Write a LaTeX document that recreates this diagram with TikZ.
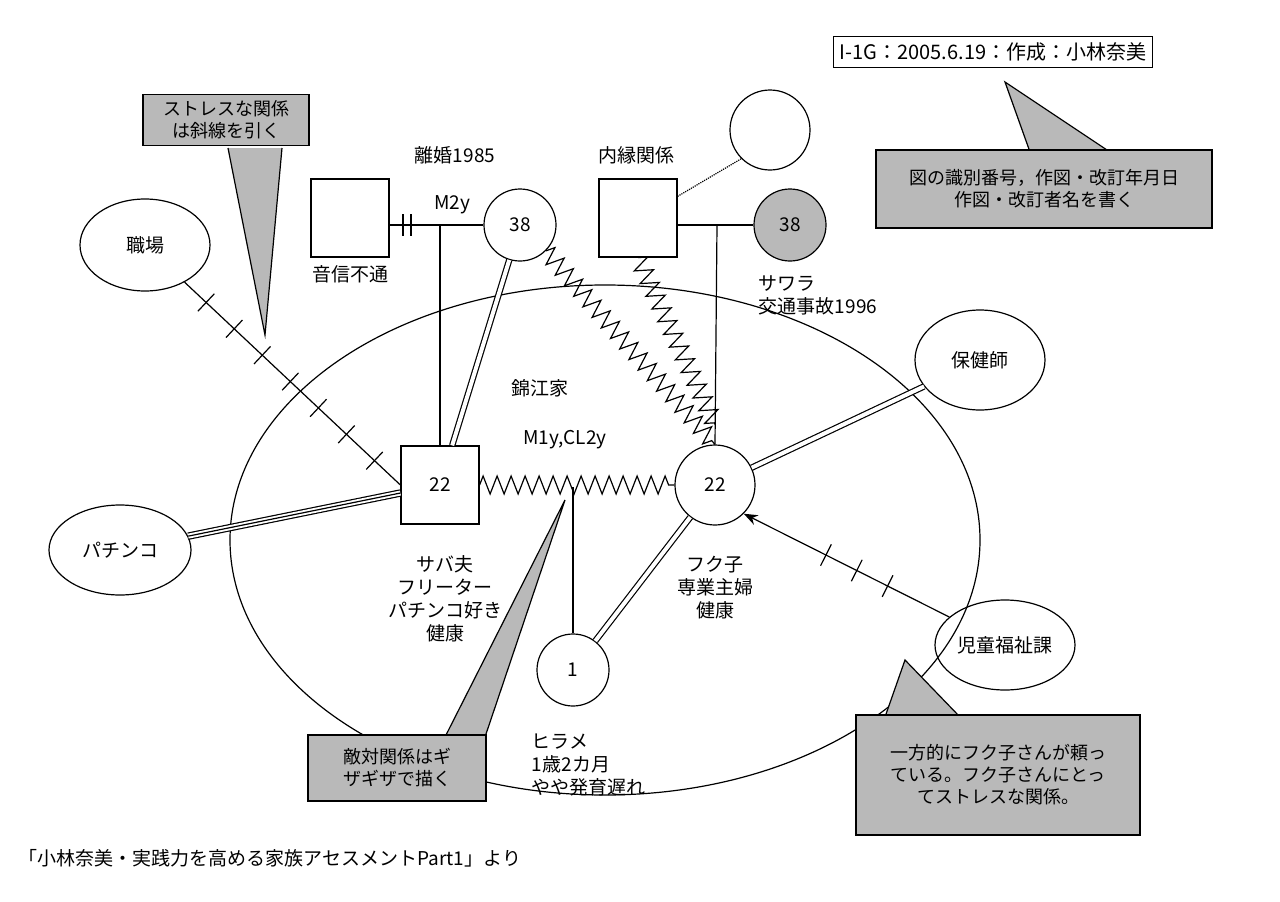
\documentclass[tikz,border=0pt]{standalone}
\usepackage{fontspec}
\setmainfont{Noto Sans CJK JP}
\usetikzlibrary{positioning,calc,shapes.geometric,decorations.pathmorphing,decorations.markings,arrows.meta}
\begin{document}
\begin{tikzpicture}[x=1pt,y=-1pt,font=\fontsize{19}{23}\selectfont,line width=1.2pt,
	m/.style={draw,minimum size=78pt,inner sep=0pt},
	f/.style={draw,circle,minimum size=72pt,inner sep=0pt},
	env/.style={draw,ellipse,inner sep=0pt},
	zz/.style={decorate,decoration={zigzag,segment length=14pt,amplitude=9pt}},
	dbl/.style={double,double distance=4pt},
	call/.style={draw,very thick,fill=gray!55,align=center,inner sep=6pt,font=\fontsize{18}{22}\selectfont},
	tail/.style={draw,very thick,fill=gray!55},
	hash/.style={decoration={markings,mark=between positions 0.1 and 0.9 step 0.13 with {\draw[-] (0,-12pt)--(0,12pt);}},postaction={decorate}},
	hash3/.style={decoration={markings,mark=between positions 0.3 and 0.6 step 0.15 with {\draw[-] (0,-12pt)--(0,12pt);}},postaction={decorate}}]
	\useasboundingbox (0,0) rectangle (1280,902);
	% family circle
	\node(fam)[draw,ellipse,minimum width=750pt,minimum height=510pt] at (605,540){};
	% parents generation
	\node(gf)[m] at (350,218){};
	\node[below=4pt of gf]{音信不通};
	\node(gm)[f] at (520,225){38};
	\node(lf)[m] at (638,218){};
	\node(lx)[f,minimum size=80pt] at (770,130){};
	\node(lm)[f,fill=gray!55] at (790,225){38};
	\node[align=left,anchor=north west] at (755,272){サワラ\\交通事故1996};
	\node at (455,155){離婚1985};
	\node at (636,155){内縁関係};
	\draw (gf.east|-gm) -- (gm.west);
	\draw (403,214)--(403,236) (411,214)--(411,236);
	\node at (452,205){M2y};
	\draw (lf.east|-lm) -- (lm.west);
	\draw[densely dotted] ($(lf.north east)+(0,18)$) -- (lx.south west);
	% couple
	\node(hb)[m] at (440,485){22};
	\node(wf)[f,minimum size=80pt] at (715,485){22};
	\node(ch)[f] at (573,670){1};
	\draw (440,225) -- (hb.north);
	\draw (717,225) -- (wf.north);
	\draw[dbl] (gm) -- (hb);
	\draw[zz] (gm.south east) -- (wf.north);
	\draw[zz] (lf.south) -- ($(wf.north)+(0,-20)$);
	\draw[zz] (hb.east) -- (wf.west);
	\draw (573,487) -- (ch.north);
	\draw[dbl] (wf) -- (ch);
	\node at (540,388){錦江家};
	\node at (565,440){M1y,CL2y};
	\node[align=center,anchor=north] at (445,552){サバ夫\\フリーター\\パチンコ好き\\健康};
	\node[align=center,anchor=north] at (715,552){フク子\\専業主婦\\健康};
	\node[align=left,anchor=north west] at (528,730){ヒラメ\\1歳2カ月\\やや発育遅れ};
	% outside
	\node(job)[env,minimum width=130pt,minimum height=92pt] at (145,245){職場};
	\node(pa)[env,minimum width=142pt,minimum height=90pt] at (120,550){パチンコ};
	\node(hn)[env,minimum width=130pt,minimum height=100pt] at (980,360){保健師};
	\node(cw)[env,minimum width=140pt,minimum height=90pt] at (1005,645){児童福祉課};
	\draw[hash] (job) -- (hb.west);
	\draw[double,double distance=5pt] (pa) -- (hb);
	\draw (pa) -- (hb);
	\draw[dbl] (hn) -- (wf);
	\draw[-{Stealth[length=14pt]},hash3] (cw) -- (wf.south east);
	% callouts
	\draw[tail] (228,148) -- (265,335) -- (282,148);
	\node[call,minimum width=166pt,minimum height=50pt] at (226,120){ストレスな関係\\は斜線を引く};
	\draw[tail] (1030,152) -- (1005,82) -- (1110,152);
	\node[call,minimum width=336pt,minimum height=78pt] at (1044,189){図の識別番号，作図・改訂年月日\\作図・改訂者名を書く};
	\draw[tail] (445,737) -- (565,500) -- (485,737);
	\node[call,minimum width=178pt,minimum height=66pt] at (397,768){敵対関係はギ\\ザギザで描く};
	\draw[tail] (885,717) -- (905,660) -- (960,717);
	\node[call,minimum width=284pt,minimum height=120pt] at (998,775){一方的にフク子さんが頼っ\\ている。フク子さんにとっ\\てストレスな関係。};
	\node(id)[draw,inner sep=6pt,font=\fontsize{20}{24}\selectfont] at (993,52){I-1G：2005.6.19：作成：小林奈美};
	\node[anchor=west] at (15,858){「小林奈美・実践力を高める家族アセスメントPart1」より};
\end{tikzpicture}
\end{document}
